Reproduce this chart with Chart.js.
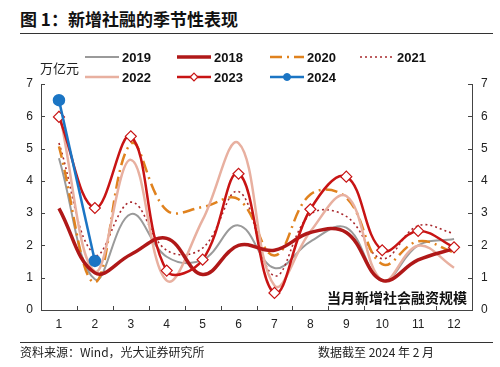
<!DOCTYPE html>
<html>
<head>
<meta charset="utf-8">
<script src="https://cdn.jsdelivr.net/npm/chart.js@4.4.1/dist/chart.umd.min.js"></script>
<style>
  html, body { margin: 0; padding: 0; background: #fff; }
  #wrap { position: relative; width: 500px; height: 367px; font-family: 'Liberation Sans', 'Noto Sans CJK SC', sans-serif; color: #222; }
  #title { position: absolute; left: 20px; top: 6px; font-size: 17px; font-weight: bold; font-family: 'Noto Sans CJK SC', sans-serif; color: #111; }
  .rule { position: absolute; left: 20px; width: 473px; height: 0; border-top: 1.5px solid #333; }
  .foot { position: absolute; top: 343px; font-size: 12px; font-family: 'Noto Sans CJK SC', sans-serif; color: #222; }
  canvas { position: absolute; left: 0; top: 0; }
</style>
</head>
<body>
<div id="wrap">
  <div id="title">图 1：新增社融的季节性表现</div>
  <div class="rule" style="top:33px"></div>
  <canvas id="chart" width="500" height="367"></canvas>
  <div class="rule" style="top:342px"></div>
  <div class="foot" style="left:20px">资料来源：Wind，光大证券研究所</div>
  <div class="foot" style="left:318px">数据截至 2024 年 2 月</div>
</div>
<script>
// 月份
const months = ['1', '2', '3', '4', '5', '6', '7', '8', '9', '10', '11', '12']

// 当月新增社融（万亿元）
const y2019 = [4.70, 0.95, 2.97, 1.65, 1.55, 2.62, 1.30, 2.12, 2.55, 0.90, 2.00, 2.20]
const y2018 = [3.15, 1.15, 1.72, 2.22, 1.10, 2.00, 1.85, 2.40, 2.40, 0.92, 1.55, 1.90]
const y2020 = [5.07, 0.86, 5.15, 3.09, 3.19, 3.43, 1.69, 3.58, 3.48, 1.42, 2.13, 1.78]
const y2021 = [5.17, 1.71, 3.34, 1.85, 1.92, 3.67, 1.06, 2.96, 2.90, 1.59, 2.61, 2.37]
const y2022 = [6.17, 1.19, 4.65, 0.91, 2.79, 5.17, 0.76, 2.43, 3.53, 0.91, 1.99, 1.31]
const y2023 = [5.98, 3.16, 5.38, 1.22, 1.56, 4.22, 0.53, 3.12, 4.13, 1.85, 2.45, 1.94]
const y2024 = [6.50, 1.52]

const yTicks = [0, 1, 2, 3, 4, 5, 6, 7]

const datasets = [
  { label: '2019', data: y2019, borderColor: '#9a9a9a', borderWidth: 2, tension: 0.4, pointRadius: 0, order: 6 },
  { label: '2018', data: y2018, borderColor: '#b01818', borderWidth: 3.5, tension: 0.4, pointRadius: 0, order: 2 },
  { label: '2020', data: y2020, borderColor: '#e0821e', borderWidth: 2.5, borderDash: [12, 5, 2, 5], tension: 0.4, pointRadius: 0, order: 4 },
  { label: '2021', data: y2021, borderColor: '#a8282d', borderWidth: 1.6, borderDash: [2, 3], tension: 0.4, pointRadius: 0, order: 5 },
  { label: '2022', data: y2022, borderColor: '#e8b0a0', borderWidth: 2.5, tension: 0.4, pointRadius: 0, order: 3 },
  { label: '2023', data: y2023, borderColor: '#c81414', borderWidth: 2.5, tension: 0.4,
    pointStyle: 'rectRot', pointRadius: 5.5, pointBackgroundColor: '#fff', pointBorderColor: '#c81414', pointBorderWidth: 1.2, order: 1 },
  { label: '2024', data: y2024, borderColor: '#1b75c4', borderWidth: 2.5, tension: 0,
    pointStyle: 'circle', pointRadius: 5, pointBackgroundColor: '#1b75c4', pointBorderColor: '#1b75c4', order: 0 }
]

// legend + inward ticks + annotation
const decor = {
  id: 'decor',
  afterDraw(chart) {
    const ctx = chart.ctx
    const area = chart.chartArea
    const y = chart.scales.y

    ctx.save()
    ctx.strokeStyle = '#444'
    ctx.lineWidth = 1
    ctx.beginPath()
    yTicks.forEach(v => {
      const py = Math.round(y.getPixelForValue(v)) + 0.5
      ctx.moveTo(area.left, py); ctx.lineTo(area.left + 4, py)
      ctx.moveTo(area.right - 4, py); ctx.lineTo(area.right, py)
    })
    const step = (area.right - area.left) / months.length
    for (let i = 1; i < months.length; i++) {
      const px = Math.round(area.left + step * i) + 0.5
      ctx.moveTo(px, area.bottom); ctx.lineTo(px, area.bottom - 4)
    }
    ctx.stroke()

    // unit label
    ctx.fillStyle = '#222'
    ctx.font = '13px "Noto Sans CJK SC"'
    ctx.textBaseline = 'middle'
    ctx.textAlign = 'left'
    ctx.fillText('万亿元', 40, 68)

    // legend
    const cols = [85, 177, 270, 360]
    const rows = [57, 77]
    chart.data.datasets.forEach((ds, i) => {
      const lx = cols[i % 4]
      const ly = rows[Math.floor(i / 4)]
      ctx.save()
      ctx.strokeStyle = ds.borderColor
      ctx.lineWidth = ds.borderWidth
      ctx.setLineDash(ds.borderDash || [])
      ctx.beginPath()
      ctx.moveTo(lx, ly); ctx.lineTo(lx + 34, ly)
      ctx.stroke()
      ctx.setLineDash([])
      if (ds.pointRadius) {
        const r = ds.pointRadius * 0.7
        ctx.fillStyle = ds.pointBackgroundColor
        ctx.strokeStyle = ds.pointBorderColor
        ctx.lineWidth = ds.pointBorderWidth || 1
        ctx.beginPath()
        if (ds.pointStyle === 'circle') {
          ctx.arc(lx + 17, ly, r, 0, Math.PI * 2)
        } else {
          ctx.moveTo(lx + 17, ly - r); ctx.lineTo(lx + 17 + r, ly)
          ctx.lineTo(lx + 17, ly + r); ctx.lineTo(lx + 17 - r, ly); ctx.closePath()
        }
        ctx.fill(); ctx.stroke()
      }
      ctx.restore()
      ctx.fillStyle = '#111'
      ctx.font = 'bold 13px "Liberation Sans"'
      ctx.textAlign = 'left'
      ctx.fillText(ds.label, lx + 37, ly + 1)
    })

    // annotation
    ctx.font = 'bold 14px "Noto Sans CJK SC"'
    ctx.textAlign = 'right'
    ctx.fillStyle = '#111'
    ctx.fillText('当月新增社会融资规模', 467, 298)
    ctx.restore()
  }
}

const tickFont = { family: 'Liberation Sans', size: 12 }

new Chart(document.getElementById('chart'), {
  type: 'line',
  data: { labels: months, datasets },
  options: {
    responsive: false,
    animation: false,
    layout: { padding: { top: 84, left: 0, right: 0, bottom: 0 } },
    plugins: { legend: { display: false }, tooltip: { enabled: false } },
    scales: {
      x: {
        offset: true,
        grid: { display: false, drawTicks: false },
        border: { display: true, color: '#444', width: 1 },
        ticks: { color: '#222', font: tickFont, padding: 7, maxRotation: 0 },
        afterFit: s => { s.height = 57 }
      },
      y: {
        position: 'left',
        min: 0, max: 7,
        grid: { display: false, drawTicks: false },
        border: { display: true, color: '#444', width: 1 },
        ticks: { stepSize: 1, color: '#222', font: tickFont, padding: 8 },
        afterFit: s => { s.width = 41 }
      },
      y2: {
        position: 'right',
        min: 0, max: 7,
        grid: { display: false, drawTicks: false },
        border: { display: true, color: '#444', width: 1 },
        ticks: { stepSize: 1, color: '#222', font: tickFont, padding: 9 },
        afterFit: s => { s.width = 28 }
      }
    }
  },
  plugins: [decor]
})
</script>
</body>
</html>
